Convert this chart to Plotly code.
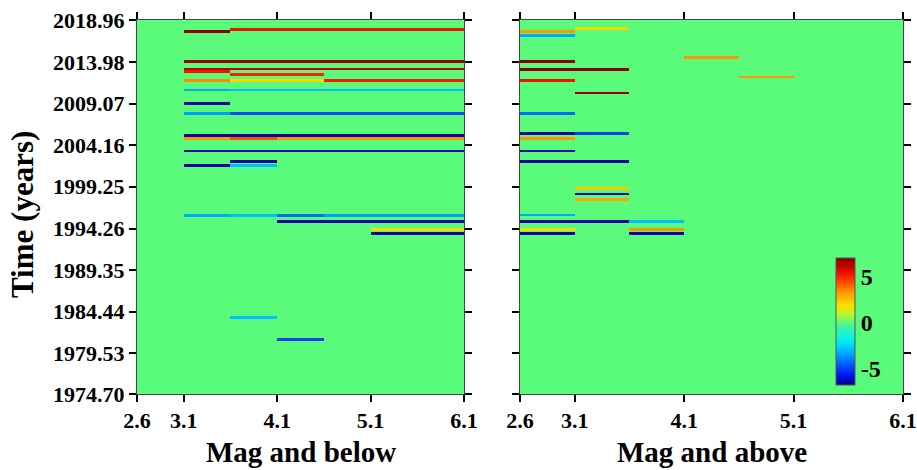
import numpy as np
import plotly.graph_objects as go

# ---------------- data ----------------
time_ticks = [1974.70, 1979.53, 1984.44, 1989.35, 1994.26, 1999.25, 2004.16, 2009.07, 2013.98, 2018.96]
time_tick_labels = ["1974.70", "1979.53", "1984.44", "1989.35", "1994.26", "1999.25",
                    "2004.16", "2009.07", "2013.98", "2018.96"]
mag_ticks = [2.6, 3.1, 4.1, 5.1, 6.1]
mag_edges = [2.6, 3.1, 3.6, 4.1, 4.6, 5.1, 5.6, 6.1]

# Left panel ("Mag and below"): segments (time, mag from, mag to, value)
left_time = [2017.57, 2017.86, 2014.01, 2013.15, 2012.83, 2012.52,
             2011.84, 2011.84, 2011.84,
             2010.65, 2010.65,
             2009.07,
             2007.89, 2007.89,
             2005.31,
             2004.92, 2004.92, 2004.92,
             2003.45, 2002.23,
             2001.79, 2001.79,
             1995.82, 1995.82, 1995.82, 1995.82,
             1995.14, 1994.12, 1993.72, 1983.75, 1981.11]
left_mag_lo = [3.1, 3.6, 3.1, 3.1, 3.1, 3.6,
               3.1, 3.6, 4.6,
               3.1, 3.6,
               3.1,
               3.1, 3.6,
               3.1,
               3.1, 3.6, 4.1,
               3.1, 3.6,
               3.1, 3.6,
               3.1, 3.6, 4.1, 4.6,
               4.1, 5.1, 5.1, 3.6, 4.1]
left_mag_hi = [3.6, 6.1, 6.1, 6.1, 3.6, 4.6,
               3.6, 4.6, 6.1,
               3.6, 6.1,
               3.6,
               3.6, 6.1,
               6.1,
               3.6, 4.1, 6.1,
               6.1, 4.1,
               3.6, 4.1,
               3.6, 4.1, 4.6, 6.1,
               6.1, 6.1, 6.1, 4.1, 4.6]
left_value = [6.8, 5.3, 6.6, 6.2, 5.3, 5.0,
              3.5, 2.0, 5.2,
              -3.3, -3.0,
              -6.5,
              -3.5, -4.8,
              -6.5,
              3.3, 4.3, 3.3,
              -6.5, -6.5,
              -6.5, -3.0,
              -3.3, -3.0, -4.3, -3.5,
              -6.5, 1.9, -6.5, -3.0, -5.0]

# Right panel ("Mag and above")
right_time = [2017.97, 2017.57, 2017.10, 2014.57, 2014.01, 2013.07, 2012.20, 2011.80,
              2010.30, 2007.92, 2005.52, 2005.52, 2004.99, 2003.45, 2002.23,
              1998.99, 1998.35, 1997.76, 1995.90,
              1995.14, 1995.14, 1994.12, 1994.12, 1993.72, 1993.72]
right_mag_lo = [3.1, 2.6, 2.6, 4.1, 2.6, 2.6, 4.6, 2.6,
                3.1, 2.6, 2.6, 3.1, 2.6, 2.6, 2.6,
                3.1, 3.1, 3.1, 2.6,
                2.6, 3.6, 2.6, 3.6, 2.6, 3.6]
right_mag_hi = [3.6, 3.1, 3.1, 4.6, 3.1, 3.6, 5.1, 3.1,
                3.6, 3.1, 3.1, 3.6, 3.1, 3.1, 3.6,
                3.6, 3.6, 3.6, 3.1,
                3.6, 4.1, 3.1, 4.1, 3.1, 4.1]
right_value = [2.0, 3.3, -3.3, 3.3, 6.8, 6.8, 3.3, 5.3,
               6.8, -4.3, -6.5, -5.0, 3.3, -6.5, -6.5,
               2.3, -6.5, 3.0, -3.3,
               -6.5, -3.0, 2.0, 3.3, -6.5, -6.5]

ZMIN, ZMAX = -6.8, 7.0
T0, T1 = 1974.70, 2018.96

# ---------------- grid building ----------------
DT = 0.05
HALF = 0.17
t_edges = np.arange(T0, T1 + DT / 2, DT)
t_cent = (t_edges[:-1] + t_edges[1:]) / 2
m_edges = np.array(mag_edges)
m_cent = (m_edges[:-1] + m_edges[1:]) / 2


def build(times, lo, hi, vals):
    z = np.zeros((len(t_cent), len(m_cent)))
    for t, a, b, v in zip(times, lo, hi, vals):
        rows = np.abs(t_cent - t) <= HALF
        cols = (m_cent > a) & (m_cent < b)
        z[np.ix_(rows, cols)] = v
    return z


z_left = build(left_time, left_mag_lo, left_mag_hi, left_value)
z_right = build(right_time, right_mag_lo, right_mag_hi, right_value)

# colour scale (jet-like)
stops = [(-6.8, "rgb(0,0,140)"), (-5.8, "rgb(0,20,235)"), (-4.5, "rgb(0,95,255)"),
         (-3.0, "rgb(0,190,255)"), (-2.0, "rgb(0,240,240)"), (-0.5, "rgb(60,245,170)"),
         (0.0, "rgb(90,251,122)"), (0.8, "rgb(180,245,50)"), (1.8, "rgb(250,225,0)"),
         (3.3, "rgb(255,150,0)"), (5.0, "rgb(255,30,0)"), (6.0, "rgb(205,0,0)"),
         (7.0, "rgb(130,0,0)")]
colorscale = [[(v - ZMIN) / (ZMAX - ZMIN), c] for v, c in stops]

FONT = "Liberation Serif"
W, H = 917, 470
TOP, BOT = 20, 394

fig = go.Figure()
fig.add_trace(go.Heatmap(x=m_edges, y=t_edges, z=z_left, colorscale=colorscale,
                         zmin=ZMIN, zmax=ZMAX, showscale=False, xaxis="x", yaxis="y",
                         hoverinfo="skip"))
fig.add_trace(go.Heatmap(x=m_edges, y=t_edges, z=z_right, colorscale=colorscale,
                         zmin=ZMIN, zmax=ZMAX, xaxis="x2", yaxis="y2", hoverinfo="skip",
                         colorbar=dict(x=836 / W, xanchor="left", y=1 - 321.5 / H,
                                       yanchor="middle", len=127 / H, lenmode="fraction",
                                       thickness=19, outlinewidth=1, outlinecolor="#555",
                                       tickvals=[-5, 0, 5], ticktext=["-5", "0", "5"],
                                       ticks="", ticklabelposition="outside",
                                       tickfont=dict(family=FONT, size=24, color="black",
                                                     weight="bold"),
                                       xpad=0, ypad=0)))

axis_common = dict(showgrid=False, zeroline=False, showline=True, linecolor="#444",
                   linewidth=1, mirror="ticks", ticks="outside", ticklen=7, tickwidth=2,
                   tickcolor="black", automargin=False, ticklabeloverflow="allow",
                   tickfont=dict(family=FONT, size=22, color="black", weight="bold"))

title_font_x = dict(family=FONT, size=29, color="black", weight="bold")
title_font_y = dict(family=FONT, size=31, color="black", weight="bold")

fig.update_layout(
    width=W, height=H, margin=dict(l=0, r=0, t=0, b=0),
    paper_bgcolor="white", plot_bgcolor="white",
    xaxis=dict(domain=[137 / W, 464 / W], range=[2.6, 6.1], tickvals=mag_ticks,
               ticktext=[f"{v:.1f}" for v in mag_ticks], anchor="y", **axis_common),
    yaxis=dict(domain=[1 - BOT / H, 1 - TOP / H], range=[T0, T1], tickvals=time_ticks,
               ticktext=time_tick_labels, anchor="x", **axis_common),
    xaxis2=dict(domain=[520 / W, 903 / W], range=[2.6, 6.1], tickvals=mag_ticks,
                ticktext=[f"{v:.1f}" for v in mag_ticks], anchor="y2", **axis_common),
    yaxis2=dict(domain=[1 - BOT / H, 1 - TOP / H], range=[T0, T1], tickvals=time_ticks,
                showticklabels=False, anchor="x2", matches="y", **axis_common),
    annotations=[
        dict(text="Mag and below", xref="paper", yref="paper", x=300.5 / W, y=1 - 452 / H,
             xanchor="center", yanchor="middle", showarrow=False, font=title_font_x),
        dict(text="Mag and above", xref="paper", yref="paper", x=711.5 / W, y=1 - 452 / H,
             xanchor="center", yanchor="middle", showarrow=False, font=title_font_x),
        dict(text="Time (years)", xref="paper", yref="paper", x=23 / W, y=1 - 215 / H,
             xanchor="center", yanchor="middle", textangle=-90, showarrow=False,
             font=title_font_y),
    ],
)

fig.write_html("out.html")
